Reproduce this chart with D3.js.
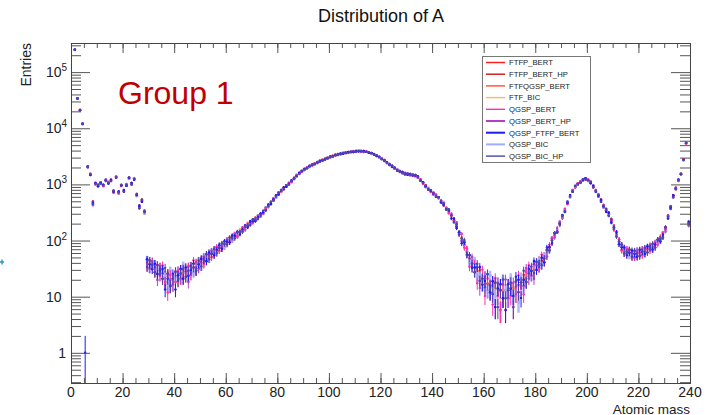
<!DOCTYPE html>
<html>
<head>
<meta charset="utf-8">
<script src="https://cdn.jsdelivr.net/npm/d3@7"></script>
<style>
  html, body { margin: 0; padding: 0; background: #ffffff; }
  svg { display: block; }
  text { font-family: "Liberation Sans", Arial, Helvetica, sans-serif; }
</style>
</head>
<body>
<svg id="chart" width="713" height="415"></svg>
<script>
// Histogram of atomic mass A, one bin per unit of A (bins 0..239).
const massMin = 0, massMax = 240, binWidth = 1;

// Reference counts per bin (bin 0 .. 239)
const counts = [
  0, 250000, 34000, 21000, 12000, 1, 2040, 1510, 470, 1030, 960, 1060, 960, 1180, 1070, 1180, 745, 1355, 724, 951,
  766, 977, 1300, 1030, 1247, 649, 397, 515, 324, 40, 38, 37, 33, 31, 29, 26, 23, 21, 20, 21,
  23, 24, 26, 26, 28, 29, 30, 33, 35, 38, 41, 45, 50, 54, 58, 63, 68, 74, 80, 87,
  95, 103, 111, 120, 131, 143, 156, 170, 187, 204, 222, 240, 260, 285, 320, 365, 415, 470, 540, 610,
  690, 770, 850, 940, 1030, 1140, 1280, 1430, 1580, 1720, 1850, 1980, 2100, 2220, 2340, 2460, 2580, 2700, 2820, 2950,
  3080, 3200, 3310, 3410, 3500, 3580, 3660, 3730, 3790, 3840, 3880, 3920, 3900, 3860, 3790, 3700, 3590, 3430, 3250, 3060,
  2870, 2660, 2450, 2260, 2100, 1950, 1810, 1700, 1620, 1560, 1520, 1500, 1480, 1440, 1350, 1200, 1060, 930, 840, 760,
  690, 630, 570, 500, 440, 380, 325, 280, 230, 180, 140, 110, 84, 64, 48, 39, 33, 28, 24, 21,
  19, 17, 16, 15, 14, 14, 13, 13, 13, 13, 14, 14, 15, 16, 18, 20, 23, 26, 29, 32,
  36, 39, 43, 48, 60, 76, 100, 125, 155, 200, 265, 345, 470, 620, 770, 910, 1020, 1110, 1200, 1260,
  1190, 1080, 920, 770, 630, 510, 410, 345, 295, 225, 170, 130, 96, 76, 67, 63, 61, 59, 58, 59,
  61, 63, 66, 70, 74, 78, 84, 94, 108, 125, 160, 264, 387, 615, 842, 1183, 1550, 2760, 5430, 200
];

// Per-model offsets from the reference counts, in units of the statistical error sqrt(N)
const devFTFP_BERT = [
  0,0,1,-1,0,-1,1,0,1,-1,0,1,0,-1,1,0,-1,1,0,1,
  -1,0,1,0,-1,1,1,-1,0,1,-1,0,1,-1,0,0,-1,1,0,-1,
  1,-1,0,1,0,-1,1,-1,0,1,0,-1,1,0,1,-1,0,1,-1,0,
  0,1,-1,0,1,0,-1,1,0,-1,1,0,0,1,-1,0,1,-1,0,1,
  -1,0,1,0,-1,1,0,-1,0,1,-1,0,1,0,-1,0,1,0,-1,1,
  0,-1,1,0,0,-1,1,0,-1,0,1,0,-1,1,0,0,-1,1,0,-1,
  1,0,-1,0,1,-1,0,1,0,-1,1,0,-1,1,0,-1,0,1,-1,0,
  0,0,1,0,0,-1,0,0,1,0,-1,0,0,1,0,0,-1,0,1,0,
  0,-1,0,0,1,0,0,-1,0,0,1,0,-1,0,0,1,0,0,-1,0,
  -1,1,0,-1,1,0,-1,1,0,1,-1,0,1,-1,0,1,0,-1,1,0,
  0,1,-1,0,1,-1,0,1,-1,0,1,0,-1,1,0,-1,1,0,1,-1,
  1,-1,0,1,0,-1,1,0,-1,1,0,1,-1,0,1,-1,0,1,0,1
];
const devFTFP_BERT_HP = [
  0,1,-1,0,1,-1,0,-1,1,0,1,-1,0,1,-1,0,1,0,-1,0,
  1,-1,0,1,0,-1,1,0,-1,0,1,0,-1,0,1,-1,0,1,-1,0,
  0,1,-1,0,-1,1,0,1,-1,0,-1,1,0,-1,0,1,-1,0,1,-1,
  1,0,-1,1,0,-1,0,1,-1,0,1,-1,1,0,-1,1,0,0,-1,1,
  0,-1,1,0,1,-1,0,1,-1,0,0,1,-1,1,0,-1,0,1,0,-1,
  1,0,-1,1,0,0,-1,1,0,-1,0,1,-1,0,1,-1,0,0,1,-1,
  0,1,0,-1,1,0,-1,0,1,-1,0,1,0,-1,1,0,-1,1,0,1,
  0,1,0,0,-1,0,0,1,0,0,0,-1,0,0,1,0,0,-1,0,0,
  1,0,0,-1,0,0,1,0,0,-1,0,0,1,0,0,0,-1,0,0,1,
  1,-1,0,1,-1,0,1,0,-1,0,1,-1,0,1,-1,0,1,-1,0,1,
  -1,0,1,0,-1,1,0,-1,1,0,-1,1,0,-1,1,0,1,-1,0,1,
  0,1,-1,0,1,-1,0,1,0,-1,1,0,-1,1,0,1,-1,0,-1,0
];
const devFTFQGSP_BERT = [
  0,-1,0,1,-1,-1,1,0,-1,1,0,-1,1,0,1,-1,0,1,-1,0,
  0,1,-1,1,0,-1,0,1,0,-1,0,1,-1,1,0,-1,1,0,-1,0,
  -1,0,1,-1,1,0,-1,0,1,-1,1,0,-1,1,-1,0,1,-1,0,1,
  0,-1,1,0,-1,1,0,-1,1,0,0,1,-1,0,1,-1,0,1,0,-1,
  1,0,-1,1,0,-1,1,0,0,-1,1,0,-1,0,1,0,-1,1,-1,0,
  -1,1,0,-1,1,0,0,-1,1,0,-1,1,0,-1,0,1,0,-1,1,0,
  1,-1,0,1,0,-1,1,-1,0,1,0,-1,1,0,-1,1,0,-1,1,0,
  1,0,0,-1,0,0,1,0,0,-1,0,0,1,0,0,-1,0,0,1,0,
  0,0,-1,0,1,0,0,-1,0,0,1,0,0,-1,0,0,1,0,0,-1,
  0,1,-1,0,1,-1,0,1,-1,0,0,1,-1,0,1,-1,0,1,-1,0,
  1,-1,0,1,-1,0,1,0,-1,1,0,-1,1,0,-1,1,0,-1,0,1,
  -1,0,1,-1,0,1,-1,0,1,0,-1,1,0,-1,1,0,1,-1,0,-1
];
const devFTF_BIC = [
  0,1,0,-1,1,-1,0,1,-1,0,-1,0,1,-1,0,1,0,-1,1,-1,
  1,0,-1,0,1,-1,0,1,-1,0,1,-1,0,0,-1,1,-1,0,1,-1,
  0,1,-1,0,1,-1,1,0,-1,1,0,-1,0,1,-1,0,1,-1,1,0,
  -1,1,0,-1,0,1,-1,0,1,-1,0,1,0,-1,1,0,-1,1,-1,0,
  1,-1,0,0,1,-1,1,0,-1,1,0,-1,0,1,-1,1,0,-1,1,0,
  0,1,-1,0,-1,1,0,1,-1,0,1,-1,0,1,0,-1,1,0,-1,1,
  -1,0,1,-1,0,1,0,-1,1,0,-1,0,1,-1,0,1,-1,0,1,-1,
  0,-1,0,0,1,0,0,-1,0,1,0,0,-1,0,0,1,0,0,-1,0,
  -1,0,0,1,0,0,-1,0,0,1,0,0,-1,0,1,0,0,-1,0,0,
  1,0,-1,1,0,-1,1,-1,0,1,0,-1,1,0,-1,1,-1,0,1,0,
  -1,1,0,-1,0,1,-1,1,0,-1,1,0,0,-1,1,-1,0,1,-1,0,
  1,-1,0,1,-1,0,0,1,-1,0,1,-1,1,0,-1,0,1,0,1,-1
];
const devQGSP_BERT = [
  0,-1,1,0,-1,-1,0,1,-2,1,0,1,-1,0,1,-1,1,0,-1,1,
  0,-1,1,-1,0,1,-1,0,1,-1,1,0,-1,1,-1,2,-1,-2,1,0,
  -1,1,1,-1,0,1,-1,2,-1,0,1,-1,1,0,-1,1,1,-1,0,1,
  -1,0,1,1,-1,0,1,-1,1,0,-1,1,0,1,-1,0,1,0,-1,1,
  1,-1,0,1,1,-1,0,1,0,-1,1,0,1,-1,0,1,0,-1,1,0,
  -1,1,0,1,-1,0,1,0,-1,1,0,1,-1,0,1,0,1,-1,0,1,
  0,1,-1,1,0,-1,1,0,1,-1,0,1,1,-1,0,1,-1,1,0,-1,
  1,0,1,-1,1,0,-1,1,0,1,-1,2,-1,1,-2,0,1,-2,-1,2,
  -2,1,0,-2,2,-1,-2,1,-2,1,-1,-2,0,2,-1,-2,1,2,-1,1,
  0,-1,2,-1,1,-1,1,0,-1,1,0,1,-1,1,0,-1,1,0,1,-1,
  1,0,-1,1,0,1,-1,0,1,1,-1,0,1,-1,-1,1,0,-1,1,0,
  0,-1,1,0,-1,1,1,-1,0,1,-1,0,1,1,-1,0,-1,1,-1,0
];
const devQGSP_BERT_HP = [
  0,1,-1,1,0,-1,-1,0,1,0,-1,1,0,-1,0,1,-1,0,1,0,
  -1,1,0,-1,1,0,0,-1,1,0,-1,1,0,-2,1,0,-1,1,0,-1,
  1,0,-1,1,0,-2,1,0,1,-1,0,1,-1,0,1,-1,1,0,-1,0,
  1,-1,0,1,-1,0,1,0,-1,1,0,-1,1,-1,0,1,-1,0,1,0,
  -1,1,0,-1,0,1,-1,0,1,0,-1,1,0,-1,1,0,-1,0,1,-1,
  0,0,1,-1,0,1,-1,0,1,-1,1,0,-1,0,1,-1,0,1,-1,0,
  1,-1,0,0,1,-1,0,1,-1,0,1,-1,0,1,-1,0,1,-1,0,1,
  -1,1,0,1,-1,0,1,0,-1,2,0,-1,1,-1,0,2,-1,1,-2,0,
  1,0,-1,1,-2,1,0,-1,2,-1,0,1,-1,1,0,-1,2,-1,0,-2,
  1,-1,1,0,-1,1,0,-1,1,-1,0,1,0,-1,1,0,-1,1,0,-1,
  0,1,-1,0,1,-1,1,0,-1,0,1,-1,0,1,-1,0,1,0,-1,1,
  -1,1,0,-1,1,0,-1,1,0,-1,0,1,-1,0,1,-1,0,1,0,-1
];
const devQGSP_FTFP_BERT = [
  0,0,-1,1,0,0,1,-1,0,1,-1,0,1,0,-1,1,0,-1,1,0,
  1,-1,0,1,-1,0,1,-1,0,1,0,-1,1,-1,0,1,-2,0,-1,1,
  -2,0,1,-1,1,-1,0,1,-1,0,1,0,-1,1,0,-1,0,1,-1,1,
  0,-1,1,0,1,-1,0,1,-1,1,0,-1,0,1,0,-1,1,-1,0,1,
  -1,0,1,-1,0,1,0,-1,1,0,1,-1,0,1,-1,0,1,0,-1,0,
  1,-1,0,0,1,-1,0,1,0,-1,1,-1,0,1,0,-1,1,0,-1,1,
  -1,0,1,0,-1,1,-1,0,1,0,-1,1,-1,0,1,-1,1,0,-1,0,
  0,-1,1,-1,0,-1,1,-2,1,-1,0,-2,1,-1,1,-1,0,1,2,-1,
  0,2,-1,1,-2,0,1,-1,-2,1,0,-1,2,1,-2,0,-1,1,0,2,
  -1,0,1,-1,2,0,-1,1,-1,0,1,-1,0,1,-1,1,0,-1,0,1,
  0,-1,1,-1,0,1,0,-1,1,-1,0,1,-1,0,1,-1,0,1,0,-1,
  1,0,-1,1,0,-1,0,1,-1,0,1,-1,0,1,0,1,-1,0,1,1
];
const devQGSP_BIC = [
  0,-1,0,1,-1,-1,0,1,-1,1,0,-1,0,1,-1,0,1,0,-1,1,
  0,1,-1,0,1,-1,1,0,-1,1,-1,0,1,0,-1,1,0,-1,2,-1,
  0,1,-1,2,0,-1,1,-1,0,1,-1,1,0,-1,1,0,-1,1,0,-1,
  1,0,-1,1,-1,0,1,-1,0,1,-1,0,1,0,-1,1,0,-1,1,-1,
  0,1,-1,0,1,0,-1,1,-1,0,1,0,-1,1,0,-1,1,-1,0,1,
  -1,0,1,-1,0,1,0,-1,1,0,-1,1,0,-1,1,0,-1,0,1,-1,
  1,0,-1,1,-1,0,1,0,-1,1,0,-1,1,0,-1,0,1,-1,0,1,
  -1,1,0,-1,2,-1,0,1,-1,2,0,-1,1,0,-1,1,2,-1,0,-1,
  1,-1,2,0,-1,1,-2,2,0,-1,2,-1,0,-2,1,-1,1,0,-1,1,
  0,1,-1,1,0,-1,1,0,-1,1,0,-1,1,-1,0,1,0,-1,1,0,
  -1,0,1,-1,1,0,-1,1,0,-1,0,1,-1,1,0,1,-1,0,-1,1,
  0,1,-1,1,0,-1,1,0,-1,1,-1,0,1,-1,0,1,0,-1,0,1
];
const devQGSP_BIC_HP = [
  0,1,0,-1,0,-1,1,0,-1,0,1,-1,0,1,0,-1,1,-1,0,1,
  -1,0,1,-1,0,1,-1,1,0,-1,1,0,-1,1,0,-1,2,1,-1,0,
  1,-1,0,1,-1,0,1,0,-1,1,-1,0,1,-1,0,1,-1,0,1,0,
  -1,1,0,-1,1,0,-1,1,0,-1,1,0,-1,0,1,-1,0,1,-1,0,
  1,0,-1,1,-1,0,1,0,-1,1,0,-1,1,0,-1,1,-1,0,1,0,
  0,-1,1,0,-1,1,0,-1,0,1,-1,0,1,-1,0,1,0,-1,1,0,
  -1,1,0,-1,1,0,-1,1,0,-1,1,0,-1,1,0,-1,0,1,-1,1,
  0,-1,1,0,1,-1,2,0,-1,1,-1,0,2,-1,1,0,-1,2,-1,0,
  -1,2,0,-1,1,-2,0,2,-1,0,1,-2,1,-1,0,2,-1,0,1,-1,
  1,0,-1,0,1,-1,0,1,-1,0,1,-1,1,0,-1,1,0,-1,1,-1,
  0,1,-1,0,1,-1,0,1,-1,1,0,-1,0,1,-1,0,1,-1,1,0,
  -1,0,1,-1,0,1,-1,1,0,-1,1,0,1,-1,0,1,0,-1,1,0
];

const modelNames = ["FTFP_BERT", "FTFP_BERT_HP", "FTFQGSP_BERT", "FTF_BIC", "QGSP_BERT",
                    "QGSP_BERT_HP", "QGSP_FTFP_BERT", "QGSP_BIC", "QGSP_BIC_HP"];
const modelDevs = [devFTFP_BERT, devFTFP_BERT_HP, devFTFQGSP_BERT, devFTF_BIC, devQGSP_BERT,
                   devQGSP_BERT_HP, devQGSP_FTFP_BERT, devQGSP_BIC, devQGSP_BIC_HP];

const xTickLabels = [0, 20, 40, 60, 80, 100, 120, 140, 160, 180, 200, 220, 240];
const yDecades = [1, 10, 100, 1000, 10000, 100000];

// Styling
const modelColors = ["#ff1a1a", "#cc1010", "#ff4a2a", "#ffb860", "#ff2fb0",
                     "#b040c8", "#1a1aff", "#a4aaff", "#4848a8"];
const legendWidths = [1.4, 1.4, 1.4, 1.4, 1.4, 2, 2, 2, 1.4];
// FTF* models first, the wide light QGSP_BIC bars next, the rest on top
const drawOrder = [0, 1, 2, 3, 7, 5, 4, 6, 8];

const frame = { left: 71, right: 690, top: 43, bottom: 383 };

const svg = d3.select("#chart");
svg.append("rect").attr("width", 713).attr("height", 415).attr("fill", "#ffffff");

const x = d3.scaleLinear().domain([massMin, massMax]).range([frame.left, frame.right]);
const y = d3.scaleLog().domain([0.29, 3.3e5]).range([frame.bottom, frame.top]);

// Title
svg.append("text").attr("x", 381).attr("y", 22).attr("text-anchor", "middle")
  .attr("font-size", 18).attr("fill", "#111").text("Distribution of A");

// Data
const clipId = "plotClip";
svg.append("clipPath").attr("id", clipId).append("rect")
  .attr("x", frame.left).attr("y", frame.top)
  .attr("width", frame.right - frame.left).attr("height", frame.bottom - frame.top);

const plot = svg.append("g").attr("clip-path", `url(#${clipId})`);

drawOrder.forEach(si => {
  const dev = modelDevs[si];
  const pts = [];
  counts.forEach((c, i) => {
    const d = dev[i] || 0;
    const v = c + d * Math.sqrt(c);
    if (v > 0.05) {
      const e = Math.sqrt(v);
      pts.push({ a: massMin + (i + 0.5) * binWidth, v, lo: v - e, hi: v + e });
    }
  });
  const g = plot.append("g");
  const color = modelColors[si];
  const halo = si === 7;
  const sw = halo ? 2.6 : 1;
  const op = halo ? 0.8 : 1;
  const hw = halo ? 0.25 : 0.32;
  // vertical error bars
  g.selectAll("line.ev").data(pts).join("line")
    .attr("x1", d => x(d.a)).attr("x2", d => x(d.a))
    .attr("y1", d => d.lo > 0 ? y(d.lo) : frame.bottom + 5)
    .attr("y2", d => y(d.hi))
    .attr("stroke", color).attr("stroke-width", sw).attr("stroke-opacity", op);
  // short horizontal bars
  g.selectAll("line.eh").data(pts).join("line")
    .attr("x1", d => x(d.a - binWidth * hw)).attr("x2", d => x(d.a + binWidth * hw))
    .attr("y1", d => y(d.v)).attr("y2", d => y(d.v))
    .attr("stroke", color).attr("stroke-width", sw).attr("stroke-opacity", op);
  // markers
  g.selectAll("circle").data(pts).join("circle")
    .attr("cx", d => x(d.a)).attr("cy", d => y(d.v))
    .attr("r", halo ? 1.6 : 1.2)
    .attr("fill", color).attr("fill-opacity", op);
});

// Axes: ticks on all four sides, pointing into the frame
const tickColor = "#555";
const xMinor = d3.range(massMin, massMax + 1, 5);
const yMinor = [];
for (let p = -1; p <= 5; p++) {
  for (let k = 2; k <= 9; k++) {
    const v = k * Math.pow(10, p);
    if (v >= 0.29 && v <= 3.3e5) yMinor.push(v);
  }
}

function styleAxis(g) {
  g.select(".domain").remove();
  g.selectAll("line").attr("stroke", tickColor);
  g.selectAll("text").remove();
}

svg.append("g").attr("transform", `translate(0,${frame.bottom})`)
  .call(d3.axisTop(x).tickValues(xMinor).tickSize(5).tickFormat("")).call(styleAxis);
svg.append("g").attr("transform", `translate(0,${frame.bottom})`)
  .call(d3.axisTop(x).tickValues(xTickLabels).tickSize(10).tickFormat("")).call(styleAxis);
svg.append("g").attr("transform", `translate(0,${frame.top})`)
  .call(d3.axisBottom(x).tickValues(xMinor).tickSize(5).tickFormat("")).call(styleAxis);
svg.append("g").attr("transform", `translate(0,${frame.top})`)
  .call(d3.axisBottom(x).tickValues(xTickLabels).tickSize(10).tickFormat("")).call(styleAxis);

svg.append("g").attr("transform", `translate(${frame.left},0)`)
  .call(d3.axisRight(y).tickValues(yMinor).tickSize(10).tickFormat("")).call(styleAxis);
svg.append("g").attr("transform", `translate(${frame.left},0)`)
  .call(d3.axisRight(y).tickValues(yDecades).tickSize(19).tickFormat("")).call(styleAxis);
svg.append("g").attr("transform", `translate(${frame.right},0)`)
  .call(d3.axisLeft(y).tickValues(yMinor).tickSize(10).tickFormat("")).call(styleAxis);
svg.append("g").attr("transform", `translate(${frame.right},0)`)
  .call(d3.axisLeft(y).tickValues(yDecades).tickSize(19).tickFormat("")).call(styleAxis);

// Frame
svg.append("rect")
  .attr("x", frame.left + 0.5).attr("y", frame.top + 0.5)
  .attr("width", frame.right - frame.left).attr("height", frame.bottom - frame.top)
  .attr("fill", "none").attr("stroke", "#444").attr("stroke-width", 1);

// X tick labels
svg.append("g").selectAll("text").data(xTickLabels).join("text")
  .attr("x", d => x(d)).attr("y", 397).attr("text-anchor", "middle")
  .attr("font-size", 14).attr("fill", "#222").text(d => d);

// Y tick labels (powers of ten)
const yl = svg.append("g");
yDecades.forEach(v => {
  const p = Math.round(Math.log10(v));
  const ty = y(v) + 5;
  if (p === 0) {
    yl.append("text").attr("x", 66).attr("y", ty).attr("text-anchor", "end")
      .attr("font-size", 14).attr("fill", "#222").text("1");
  } else if (p === 1) {
    yl.append("text").attr("x", 46).attr("y", ty)
      .attr("font-size", 14).attr("fill", "#222").text("10");
  } else {
    const t = yl.append("text").attr("x", 46).attr("y", ty)
      .attr("font-size", 14).attr("fill", "#222");
    t.append("tspan").text("10");
    t.append("tspan").attr("dy", -6).attr("font-size", 10).text(p);
  }
});

// Axis titles
svg.append("text").attr("transform", `translate(31,${frame.top}) rotate(-90)`)
  .attr("text-anchor", "end").attr("font-size", 14).attr("fill", "#222").text("Entries");
svg.append("text").attr("x", 690).attr("y", 413.5).attr("text-anchor", "end")
  .attr("font-size", 13.5).attr("fill", "#222").text("Atomic mass");

// Legend
const lg = svg.append("g");
lg.append("rect").attr("x", 482.5).attr("y", 56.5).attr("width", 108).attr("height", 106)
  .attr("fill", "#ffffff").attr("stroke", "#777").attr("stroke-width", 1);
modelNames.forEach((name, i) => {
  const cy = 62.5 + i * 11.7;
  lg.append("line").attr("x1", 486).attr("x2", 505).attr("y1", cy).attr("y2", cy)
    .attr("stroke", modelColors[i]).attr("stroke-width", legendWidths[i]);
  lg.append("text").attr("x", 509).attr("y", cy + 2.8).attr("font-size", 7.7)
    .attr("fill", "#222").text(name);
});

// Panel label
svg.append("text").attr("x", 118).attr("y", 104)
  .attr("font-family", "Lato, 'Open Sans', sans-serif").attr("font-size", 32)
  .attr("fill", "#c00000").text("Group 1");

// Small marker at the left edge
svg.append("path").attr("d", "M0,262 L4,262 M2,259.5 L2,264.5")
  .attr("stroke", "#2a9dc0").attr("stroke-width", 1.5);
</script>
</body>
</html>
